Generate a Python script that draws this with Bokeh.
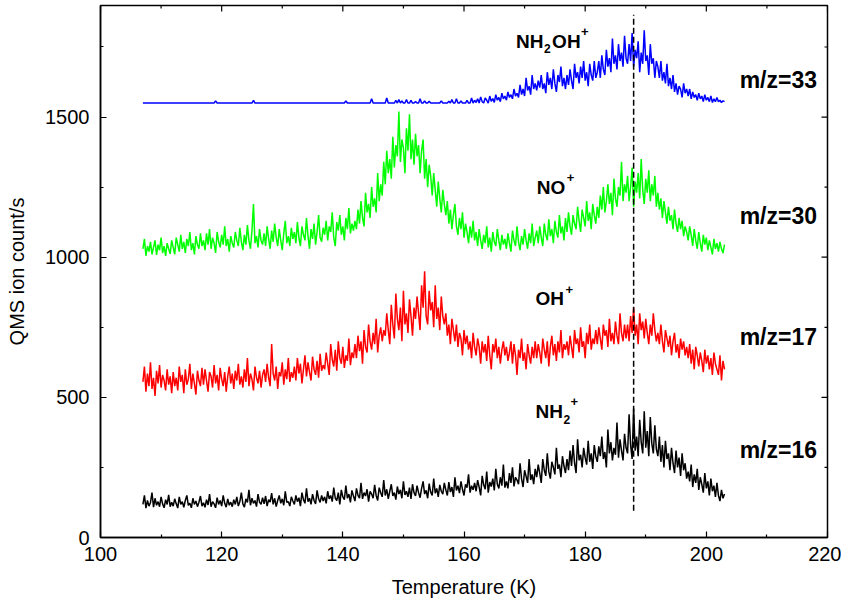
import numpy as np
from bokeh.plotting import figure
from bokeh.models import FixedTicker, Range1d, Label
from bokeh.embed import file_html
from bokeh.resources import INLINE

# ---------------- data ----------------
T_START, T_END, T_STEP = 107.0, 203.0, 0.25
temperature = np.round(np.arange(T_START, T_END + T_STEP / 2, T_STEP), 2)

mz16 = [
    118, 150, 105, 132, 112, 125, 160, 108, 140, 115, 128, 110, 145, 120, 106, 135, 118, 152, 110, 126,
    112, 138, 120, 105, 145, 118, 128, 108, 132, 150, 115, 122, 106, 140, 118, 130, 110, 126, 148, 112,
    124, 108, 135, 116, 155, 110, 128, 120, 106, 142, 118, 132, 112, 150, 122, 108, 138, 115, 126, 110,
    135, 118, 145, 112, 128, 160, 120, 108, 138, 125, 170, 115, 140, 122, 132, 110, 155, 126, 118, 142,
    120, 148, 112, 135, 126, 158, 118, 140, 110, 132, 150, 122, 138, 115, 165, 125, 128, 112, 145, 130,
    118, 150, 128, 142, 112, 160, 135, 122, 175, 128, 140, 118, 155, 132, 120, 168, 138, 125, 150, 130,
    145, 122, 165, 138, 150, 128, 178, 140, 132, 160, 118, 170, 145, 135, 185, 140, 155, 125, 168, 148,
    130, 175, 150, 140, 195, 138, 160, 148, 172, 128, 165, 155, 140, 188, 150, 132, 178, 160, 145, 205,
    150, 172, 138, 165, 190, 148, 160, 135, 182, 155, 170, 140, 200, 152, 165, 145, 178, 138, 190, 160,
    148, 185, 160, 142, 175, 200, 155, 168, 140, 192, 162, 150, 210, 158, 175, 145, 188, 165, 155, 195,
    170, 150, 198, 162, 180, 145, 215, 168, 185, 158, 200, 172, 150, 190, 178, 225, 160, 185, 170, 195,
    165, 205, 180, 150, 220, 188, 172, 235, 160, 198, 182, 210, 168, 245, 190, 175, 215, 185, 260, 178,
    200, 175, 230, 195, 250, 182, 215, 205, 190, 265, 210, 180, 240, 218, 195, 280, 205, 225, 190, 245,
    215, 260, 230, 195, 280, 240, 220, 300, 235, 210, 270, 250, 225, 320, 245, 260, 215, 290, 255, 230,
    280, 240, 310, 255, 330, 265, 230, 350, 275, 295, 250, 320, 285, 260, 345, 270, 300, 245, 330, 290,
    270, 325, 290, 360, 280, 305, 250, 385, 300, 340, 275, 320, 295, 410, 285, 350, 310, 275, 370, 320,
    300, 440, 330, 280, 460, 310, 360, 290, 420, 340, 300, 450, 320, 380, 290, 430, 335, 300, 400, 315,
    290, 360, 270, 330, 250, 345, 280, 300, 240, 320, 265, 230, 310, 250, 285, 220, 300, 240, 265, 210,
    235, 200, 260, 180, 225, 195, 245, 170, 215, 190, 160, 230, 175, 200, 150, 210, 165, 185, 145, 195,
    150, 130, 170, 140, 155,
]

mz17 = [
    555, 610, 520, 585, 540, 625, 530, 570, 505, 595, 550, 615, 535, 580, 560, 525, 600, 545, 575, 515,
    590, 540, 570, 525, 610, 555, 580, 515, 600, 545, 565, 620, 530, 585, 550, 510, 595, 560, 540, 605,
    545, 600, 560, 520, 590, 575, 535, 615, 550, 580, 525, 605, 565, 540, 590, 520, 575, 610, 550, 585,
    530, 595, 560, 620, 545, 575, 535, 600, 555, 640, 540, 585, 565, 525, 610, 570, 550, 595, 535, 580,
    600, 555, 620, 570, 540, 690, 585, 560, 610, 530, 590, 575, 625, 545, 600, 565, 640, 555, 590, 570,
    610, 560, 640, 585, 620, 550, 600, 650, 575, 625, 590, 560, 645, 600, 580, 630, 570, 655, 595, 615,
    600, 660, 620, 580, 690, 635, 610, 670, 595, 700, 640, 620, 680, 605, 650, 630, 710, 615, 660, 640,
    690, 640, 720, 665, 700, 620, 740, 680, 660, 760, 700, 670, 730, 690, 780, 660, 720, 750, 700, 740,
    720, 800, 740, 690, 830, 760, 710, 870, 780, 740, 820, 700, 880, 760, 800, 730, 850, 790, 720, 820,
    780, 860, 800, 740, 900, 820, 950, 790, 760, 880, 810, 840, 750, 900, 780, 820, 740, 860, 790, 760,
    800, 720, 760, 690, 780, 740, 700, 760, 680, 730, 710, 650, 740, 690, 720, 670, 700, 640, 730, 680,
    650, 710, 680, 620, 700, 660, 690, 630, 720, 650, 600, 690, 660, 710, 640, 680, 620, 670, 700, 650,
    680, 630, 660, 700, 620, 690, 650, 580, 670, 640, 710, 630, 660, 600, 690, 650, 620, 680, 640, 700,
    640, 690, 660, 620, 710, 670, 640, 700, 610, 680, 720, 650, 690, 630, 700, 660, 740, 640, 690, 670,
    700, 650, 720, 680, 640, 740, 690, 710, 660, 750, 680, 700, 640, 730, 690, 760, 670, 710, 690, 740,
    690, 750, 710, 670, 760, 720, 740, 680, 780, 700, 730, 690, 770, 720, 690, 800, 730, 700, 760, 710,
    760, 700, 790, 730, 820, 720, 760, 690, 800, 740, 770, 710, 780, 730, 690, 760, 720, 800, 740, 700,
    730, 690, 760, 700, 660, 740, 710, 680, 720, 650, 700, 730, 660, 690, 640, 710, 670, 700, 650, 680,
    640, 690, 620, 670, 600, 680, 650, 610, 660, 630, 590, 670, 620, 650, 600, 640, 580, 660, 620, 600,
    580, 650, 560, 630, 600,
]

mz30 = [
    1030, 1065, 1005, 1040, 1020, 1055, 1010, 1035, 1060, 1008, 1045, 1025, 1070, 1015, 1040, 1005, 1050, 1030, 1012, 1060,
    1035, 1010, 1070, 1045, 1020, 1080, 1030, 1055, 1015, 1065, 1040, 1090, 1025, 1050, 1010, 1075, 1045, 1030, 1085, 1040,
    1060, 1025, 1085, 1045, 1100, 1030, 1070, 1050, 1015, 1090, 1055, 1035, 1080, 1045, 1110, 1040, 1065, 1020, 1075, 1050,
    1035, 1090, 1060, 1040, 1105, 1055, 1025, 1080, 1045, 1115, 1060, 1030, 1095, 1190, 1050, 1075, 1035, 1100, 1060, 1045,
    1085, 1040, 1110, 1065, 1030, 1095, 1055, 1120, 1070, 1040, 1100, 1060, 1025, 1085, 1130, 1050, 1075, 1040, 1105, 1065,
    1090, 1050, 1125, 1070, 1040, 1110, 1080, 1060, 1140, 1075, 1030, 1100, 1065, 1120, 1045, 1090, 1150, 1070, 1055, 1105,
    1080, 1130, 1060, 1110, 1090, 1160, 1070, 1040, 1125, 1095, 1150, 1080, 1110, 1060, 1140, 1100, 1175, 1085, 1120, 1095,
    1130, 1100, 1170, 1120, 1200, 1140, 1110, 1230, 1160, 1190, 1140, 1250, 1180, 1210, 1160, 1300, 1200, 1260, 1220, 1340,
    1260, 1380, 1300, 1350, 1280, 1430, 1320, 1400, 1360, 1520, 1340, 1420, 1390, 1300, 1460, 1380, 1510, 1350, 1420, 1330,
    1440, 1360, 1400, 1300, 1380, 1420, 1280, 1350, 1250, 1330, 1290, 1220, 1300, 1240, 1180, 1270, 1210, 1160, 1240, 1190,
    1150, 1200, 1120, 1170, 1100, 1150, 1190, 1110, 1080, 1140, 1100, 1160, 1070, 1120, 1090, 1050, 1110, 1070, 1130, 1060,
    1090, 1040, 1100, 1060, 1030, 1080, 1050, 1110, 1035, 1070, 1020, 1090, 1055, 1040, 1100, 1060, 1025, 1080, 1045, 1065,
    1030, 1085, 1050, 1020, 1095, 1060, 1040, 1110, 1055, 1025, 1075, 1045, 1100, 1060, 1030, 1085, 1050, 1120, 1040, 1070,
    1095, 1050, 1110, 1070, 1040, 1120, 1080, 1060, 1135, 1075, 1100, 1050, 1130, 1090, 1070, 1150, 1085, 1110, 1060, 1140,
    1090, 1160, 1110, 1080, 1150, 1120, 1100, 1180, 1130, 1090, 1170, 1140, 1110, 1200, 1130, 1160, 1100, 1190, 1150, 1120,
    1180, 1140, 1220, 1170, 1250, 1160, 1200, 1260, 1190, 1230, 1150, 1280, 1210, 1180, 1250, 1220, 1340, 1200, 1260, 1230,
    1290, 1200, 1250, 1320, 1180, 1270, 1230, 1300, 1210, 1350, 1240, 1190, 1280, 1230, 1310, 1200, 1260, 1220, 1290, 1180,
    1230, 1170, 1210, 1140, 1200, 1160, 1120, 1180, 1130, 1150, 1100, 1170, 1120, 1090, 1140, 1100, 1130, 1075, 1110, 1090,
    1060, 1110, 1080, 1040, 1100, 1060, 1030, 1090, 1050, 1020, 1080, 1045, 1070, 1025, 1060, 1035, 1010, 1065, 1030, 1050,
    1020, 1055, 1030, 1015, 1045,
]

mz33 = [
    1550, 1550, 1550, 1550, 1550, 1550, 1550, 1550, 1550, 1550, 1550, 1550, 1550, 1550, 1550, 1550, 1550, 1550, 1550, 1550,
    1550, 1550, 1550, 1550, 1550, 1550, 1550, 1550, 1550, 1550, 1550, 1550, 1550, 1550, 1550, 1550, 1550, 1550, 1550, 1550,
    1550, 1550, 1550, 1550, 1550, 1550, 1550, 1550, 1558, 1550, 1550, 1550, 1550, 1550, 1550, 1550, 1550, 1550, 1550, 1550,
    1550, 1550, 1550, 1550, 1550, 1550, 1550, 1550, 1550, 1550, 1550, 1550, 1550, 1560, 1550, 1550, 1550, 1550, 1550, 1550,
    1550, 1550, 1550, 1550, 1550, 1550, 1550, 1550, 1550, 1550, 1550, 1550, 1550, 1550, 1550, 1550, 1550, 1550, 1550, 1550,
    1550, 1550, 1550, 1550, 1550, 1550, 1550, 1550, 1550, 1550, 1550, 1550, 1550, 1550, 1550, 1550, 1550, 1550, 1550, 1550,
    1550, 1550, 1550, 1550, 1550, 1550, 1550, 1550, 1550, 1550, 1550, 1550, 1550, 1550, 1558, 1550, 1550, 1550, 1550, 1550,
    1550, 1550, 1550, 1550, 1550, 1550, 1550, 1550, 1550, 1550, 1550, 1565, 1550, 1550, 1550, 1550, 1550, 1550, 1550, 1550,
    1550, 1568, 1550, 1550, 1550, 1550, 1550, 1560, 1550, 1562, 1550, 1558, 1550, 1550, 1562, 1550, 1550, 1560, 1550, 1550,
    1555, 1550, 1550, 1565, 1550, 1550, 1558, 1550, 1550, 1556, 1550, 1550, 1550, 1550, 1550, 1550, 1550, 1558, 1550, 1550,
    1550, 1550, 1556, 1550, 1562, 1550, 1550, 1565, 1550, 1550, 1558, 1550, 1550, 1550, 1560, 1550, 1550, 1568, 1550, 1560,
    1552, 1565, 1550, 1572, 1555, 1550, 1568, 1560, 1550, 1575, 1556, 1566, 1552, 1580, 1560, 1570, 1555, 1585, 1565, 1575,
    1560, 1590, 1570, 1580, 1565, 1600, 1575, 1585, 1570, 1615, 1580, 1600, 1575, 1640, 1595, 1610, 1580, 1650, 1600, 1620,
    1595, 1630, 1605, 1650, 1600, 1620, 1585, 1660, 1615, 1640, 1600, 1670, 1620, 1590, 1650, 1625, 1680, 1610, 1640, 1600,
    1650, 1615, 1670, 1630, 1600, 1690, 1640, 1660, 1620, 1680, 1640, 1700, 1630, 1660, 1610, 1690, 1650, 1630, 1700, 1640,
    1660, 1700, 1640, 1720, 1670, 1650, 1740, 1680, 1710, 1660, 1780, 1690, 1720, 1670, 1760, 1700, 1730, 1680, 1790, 1710,
    1690, 1760, 1700, 1800, 1680, 1740, 1710, 1770, 1660, 1730, 1690, 1810, 1700, 1720, 1650, 1760, 1690, 1710, 1640, 1700,
    1680, 1640, 1700, 1630, 1660, 1620, 1690, 1610, 1640, 1600, 1650, 1590, 1620, 1580, 1610, 1600, 1570, 1620, 1585, 1600,
    1575, 1600, 1565, 1590, 1570, 1580, 1560, 1585, 1565, 1575, 1555, 1580, 1560, 1570, 1555, 1575, 1552, 1565, 1555, 1570,
    1555, 1560, 1552, 1558, 1555,
]

series_colors = ["#000000", "#FF0000", "#00FF00", "#0000FF"]
series_labels = ["m/z=16", "m/z=17", "m/z=30", "m/z=33"]

x_ticks = [100, 120, 140, 160, 180, 200, 220]
x_minor = [110, 130, 150, 170, 190, 210]
y_ticks = [0, 500, 1000, 1500]
y_minor = [250, 750, 1250, 1750]

marker_T = 188

for s in (mz16, mz17, mz30, mz33):
    assert len(s) == len(temperature), (len(s), len(temperature))

# ---------------- figure ----------------
FONT = "Liberation Sans"
X0, X1, Y0, Y1 = 100, 220, 0, 1898

p = figure(width=841, height=600, output_backend="svg", toolbar_location=None,
           x_range=Range1d(X0, X1), y_range=Range1d(Y0, Y1),
           x_axis_label="Temperature (K)", y_axis_label="QMS ion count/s",
           min_border_left=100, min_border_right=14, min_border_top=5,
           min_border_bottom=63)
p.grid.visible = False
p.outline_line_color = "black"
p.outline_line_width = 1.5
p.background_fill_color = "white"
p.border_fill_color = "white"

p.xaxis.ticker = FixedTicker(ticks=x_ticks, minor_ticks=x_minor)
p.yaxis.ticker = FixedTicker(ticks=y_ticks, minor_ticks=y_minor)

for ax in (p.xaxis[0], p.yaxis[0]):
    ax.major_tick_in = 6
    ax.major_tick_out = 0
    ax.minor_tick_in = 3
    ax.minor_tick_out = 0
    ax.axis_line_color = "black"
    ax.axis_line_width = 1.5
    ax.major_tick_line_color = "black"
    ax.major_tick_line_width = 1.2
    ax.minor_tick_line_color = "black"
    ax.minor_tick_line_width = 1.2
    ax.major_label_text_font = FONT
    ax.major_label_text_font_size = "20px"
    ax.major_label_text_color = "black"
    ax.axis_label_text_font = FONT
    ax.axis_label_text_font_size = "20px"
    ax.axis_label_text_font_style = "normal"
    ax.axis_label_text_color = "black"

p.xaxis.major_label_standoff = 9
p.xaxis.axis_label_standoff = 12
p.yaxis.major_label_standoff = 11
p.yaxis.axis_label_standoff = 14

# mirrored inward ticks on the top and right edges (screen-length rays)
p.ray(x=x_ticks, y=[Y1] * len(x_ticks), length=6, length_units="screen",
      angle=-np.pi / 2, line_color="black", line_width=1.2)
p.ray(x=x_minor, y=[Y1] * len(x_minor), length=3, length_units="screen",
      angle=-np.pi / 2, line_color="black", line_width=1.2)
p.ray(x=[X1] * len(y_ticks), y=y_ticks, length=6, length_units="screen",
      angle=np.pi, line_color="black", line_width=1.2)
p.ray(x=[X1] * len(y_minor), y=y_minor, length=3, length_units="screen",
      angle=np.pi, line_color="black", line_width=1.2)

# data lines
for ys, c in zip((mz16, mz17, mz30, mz33), series_colors):
    p.line(temperature, ys, line_color=c, line_width=1.5)

# dashed marker line
p.segment(x0=[marker_T], y0=[95], x1=[marker_T], y1=[1865],
          line_color="black", line_width=1.5, line_dash="6 3")

# m/z labels
mz_label_pos = [(205.5, 312), (205.5, 716), (205.5, 1148), (205.5, 1632)]
for (lx, ly), txt in zip(mz_label_pos, series_labels):
    p.add_layout(Label(x=lx, y=ly, text=txt, text_font=FONT, text_font_size="23px",
                       text_font_style="bold", text_color="black",
                       text_baseline="alphabetic", text_align="left"))


def chem(parts, x, y):
    for txt, dx, dy, size in parts:
        p.add_layout(Label(x=x, y=y, x_offset=dx, y_offset=dy, text=txt,
                           text_font=FONT, text_font_size=size,
                           text_font_style="bold", text_color="black",
                           text_baseline="alphabetic", text_align="left"))


chem([("NH", 0, 0, "19px"), ("2", 28, -7, "12px"), ("OH", 36, 0, "19px"),
      ("+", 65, 10, "13px")], 168.6, 1771)
chem([("NO", 0, 0, "19px"), ("+", 30, 10, "13px")], 172.0, 1248)
chem([("OH", 0, 0, "19px"), ("+", 30, 9, "13px")], 171.8, 852)
chem([("NH", 0, 0, "19px"), ("2", 28, -8, "12px"), ("+", 35, 10, "13px")], 171.8, 448)

open("out.html", "w").write(file_html(p, INLINE))
